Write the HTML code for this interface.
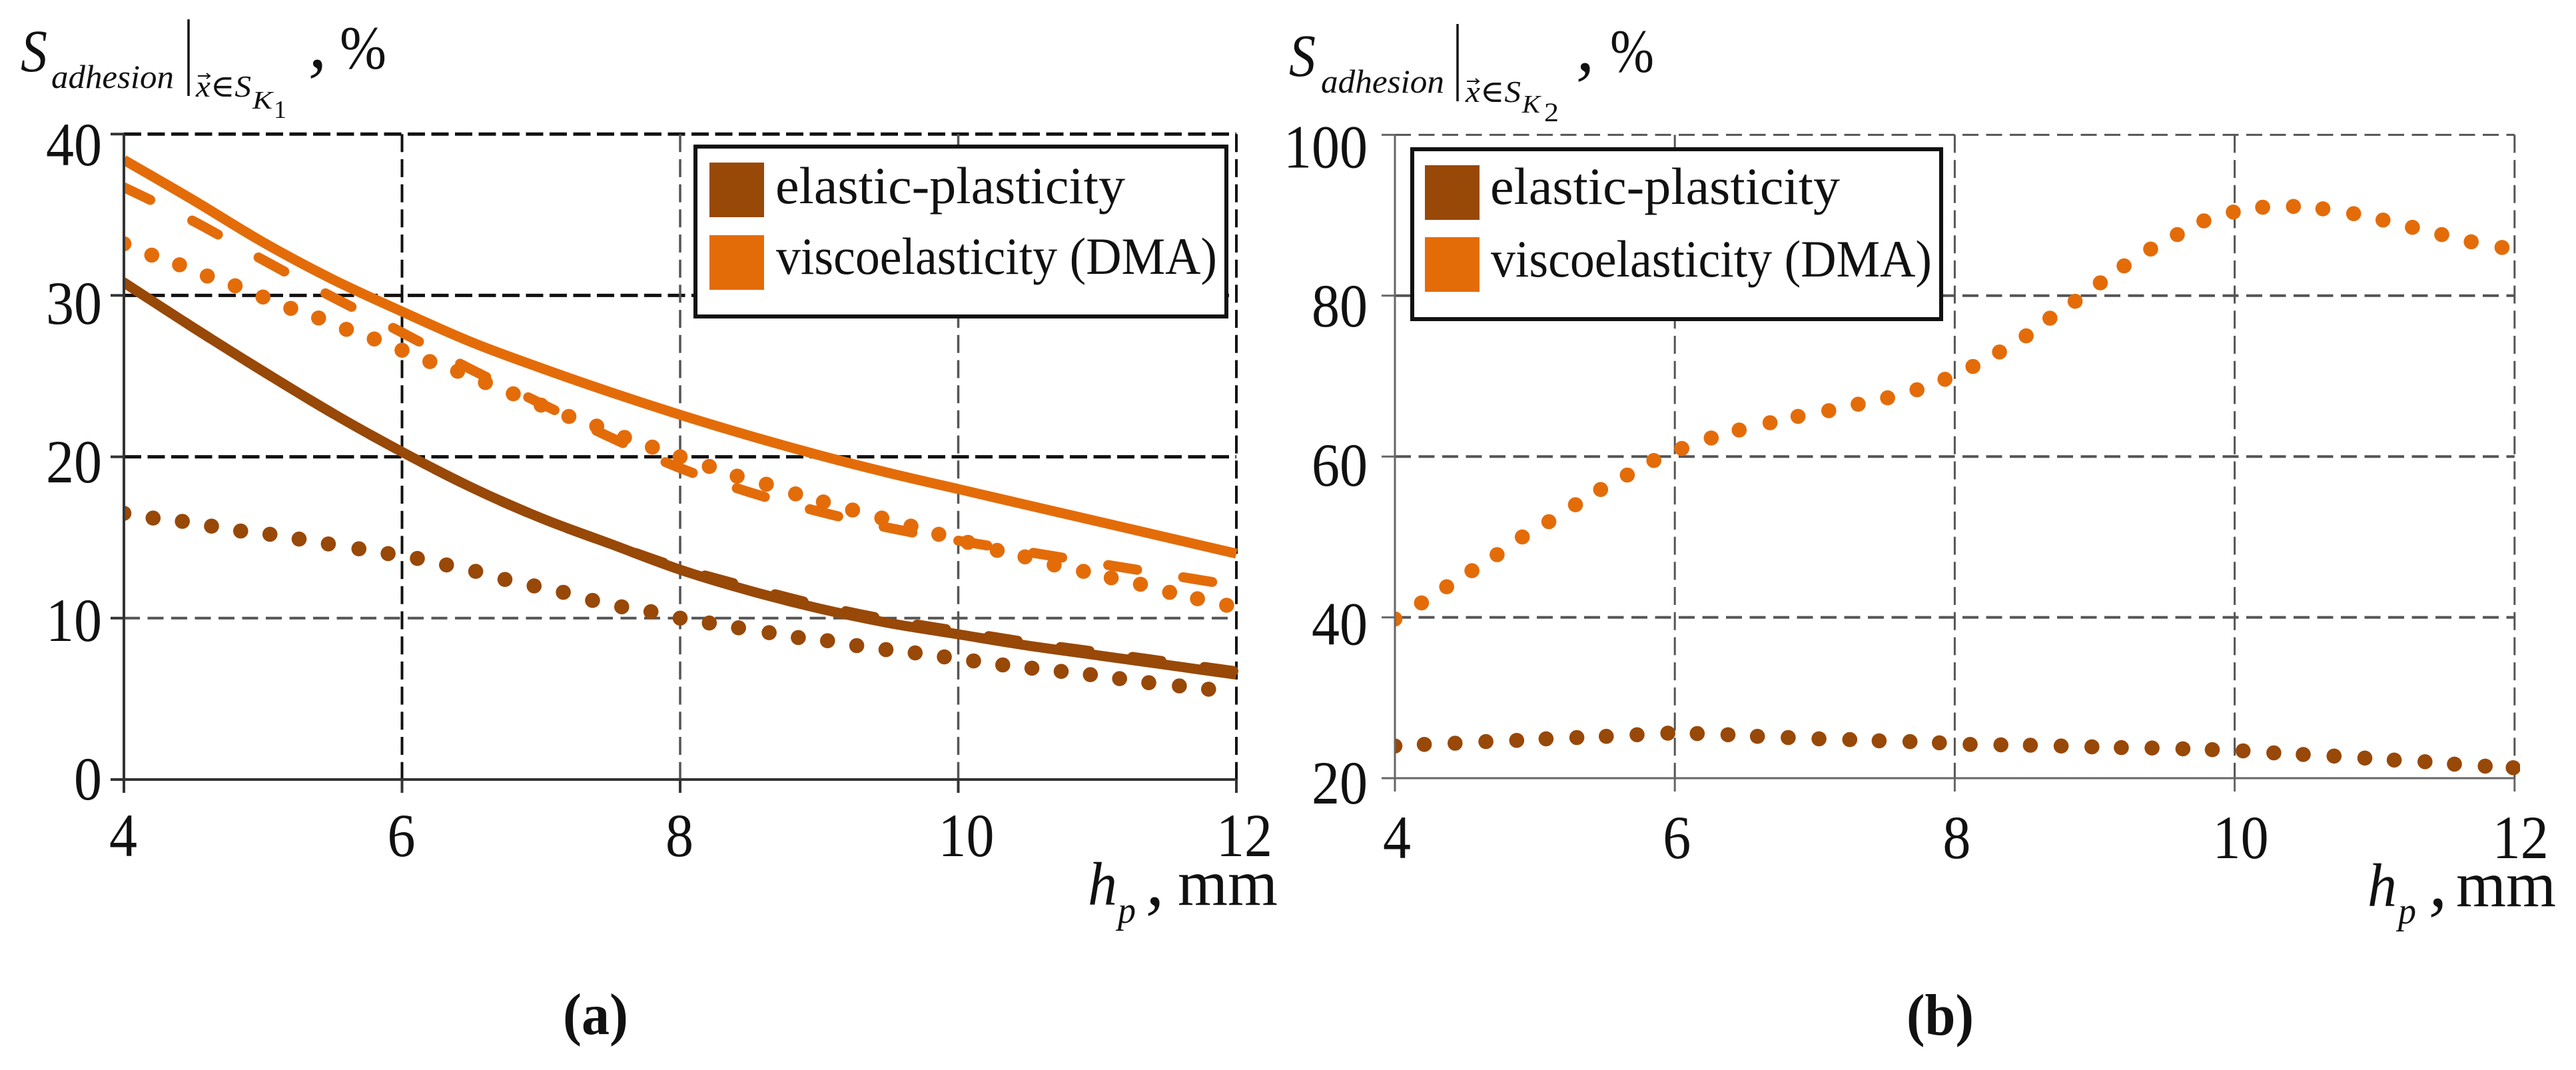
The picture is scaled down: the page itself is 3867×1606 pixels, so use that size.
<!DOCTYPE html>
<html lang="en">
<head>
<meta charset="utf-8">
<title>Adhesion area versus h_p</title>
<style>
html,body{margin:0;padding:0;background:#fff;width:3867px;height:1606px;overflow:hidden}
svg{display:block}
text{font-family:"Liberation Serif","DejaVu Serif",serif;fill:#111}
.it{font-style:italic}
</style>
</head>
<body>
<svg id="figure" xmlns="http://www.w3.org/2000/svg" width="3867" height="1606" viewBox="0 0 3867 1606">
<rect width="3867" height="1606" fill="#fff"/>
<defs>
<clipPath id="clipA"><rect x="186" y="190" width="1675" height="1000"/></clipPath>
<clipPath id="clipB"><rect x="2094" y="190" width="1689" height="1000"/></clipPath>
</defs>
<g id="gridA"></g>
<g id="marksA" clip-path="url(#clipA)"></g>
<g id="axesA"></g>
<g id="gridB"></g>
<g id="marksB" clip-path="url(#clipB)"></g>
<g id="axesB"></g>

<g>
<text class="it" x="31" y="107" font-size="90" textLength="40" lengthAdjust="spacingAndGlyphs">S</text>
<text class="it" x="77" y="132" font-size="50" textLength="184" lengthAdjust="spacingAndGlyphs">adhesion</text>
<line x1="283" y1="29" x2="283" y2="144" stroke="#111" stroke-width="3.5"/>
<path d="M297 114H315M310 110L315 114L310 118" fill="none" stroke="#111" stroke-width="2"/>
<text class="it" x="294" y="145" font-size="46" textLength="83" lengthAdjust="spacingAndGlyphs">x∈S</text>
<text class="it" x="379" y="163" font-size="38" textLength="30" lengthAdjust="spacingAndGlyphs">K</text>
<text x="411" y="177" font-size="38" textLength="19" lengthAdjust="spacingAndGlyphs">1</text>
<text class="it" x="463" y="101" font-size="110">,</text>
<text x="510" y="103" font-size="92" textLength="70" lengthAdjust="spacingAndGlyphs">%</text>
</g>

<g>
<text class="it" x="1935" y="114" font-size="90" textLength="40" lengthAdjust="spacingAndGlyphs">S</text>
<text class="it" x="1983" y="139" font-size="50" textLength="185" lengthAdjust="spacingAndGlyphs">adhesion</text>
<line x1="2188" y1="36" x2="2188" y2="152" stroke="#111" stroke-width="3.5"/>
<path d="M2202 122H2220M2215 118L2220 122L2215 126" fill="none" stroke="#111" stroke-width="2"/>
<text class="it" x="2200" y="153" font-size="46" textLength="83" lengthAdjust="spacingAndGlyphs">x∈S</text>
<text class="it" x="2285" y="169" font-size="38" textLength="27" lengthAdjust="spacingAndGlyphs">K</text>
<text x="2318" y="182" font-size="40" textLength="22" lengthAdjust="spacingAndGlyphs">2</text>
<text class="it" x="2366" y="106" font-size="110">,</text>
<text x="2417" y="108" font-size="92" textLength="66" lengthAdjust="spacingAndGlyphs">%</text>
</g>

<g>
<text class="it" x="1633" y="1358" font-size="92" textLength="44" lengthAdjust="spacingAndGlyphs">h</text>
<text class="it" x="1678" y="1385" font-size="56" textLength="27" lengthAdjust="spacingAndGlyphs">p</text>
<text class="it" x="1720" y="1358" font-size="110">,</text>
<text x="1768" y="1358" font-size="98" textLength="150" lengthAdjust="spacingAndGlyphs">mm</text>
</g>
<g>
<text class="it" x="3554" y="1360" font-size="92" textLength="44" lengthAdjust="spacingAndGlyphs">h</text>
<text class="it" x="3600" y="1386" font-size="56" textLength="27" lengthAdjust="spacingAndGlyphs">p</text>
<text class="it" x="3646" y="1360" font-size="110">,</text>
<text x="3687" y="1360" font-size="98" textLength="150" lengthAdjust="spacingAndGlyphs">mm</text>
</g>

<g>
<rect x="1044" y="220" width="797" height="255" fill="#fff" stroke="#111" stroke-width="6"/>
<rect x="1065" y="244" width="82" height="82" fill="#984807"/>
<rect x="1065" y="353" width="82" height="82" fill="#E36C09"/>
<text x="1164" y="305" font-size="78" textLength="525" lengthAdjust="spacingAndGlyphs">elastic-plasticity</text>
<text x="1165" y="411" font-size="78" textLength="662" lengthAdjust="spacingAndGlyphs">viscoelasticity (DMA)</text>
</g>
<g>
<rect x="2120" y="224" width="794" height="255" fill="#fff" stroke="#111" stroke-width="6"/>
<rect x="2139" y="248" width="82" height="82" fill="#984807"/>
<rect x="2139" y="356" width="82" height="82" fill="#E36C09"/>
<text x="2237" y="306" font-size="78" textLength="525" lengthAdjust="spacingAndGlyphs">elastic-plasticity</text>
<text x="2238" y="415" font-size="78" textLength="662" lengthAdjust="spacingAndGlyphs">viscoelasticity (DMA)</text>
</g>

<text x="845" y="1552" font-size="88" font-weight="bold" textLength="98" lengthAdjust="spacingAndGlyphs">(a)</text>
<text x="2862" y="1553" font-size="88" font-weight="bold" textLength="101" lengthAdjust="spacingAndGlyphs">(b)</text>
</svg>

<script>
// Shared x tick values and panel tick values
const hTicks = [4, 6, 8, 10, 12];
const yTicksA = [0, 10, 20, 30, 40];
const yTicksB = [20, 40, 60, 80, 100];

// Panel (a) curve knots
const curveH = [4, 4.5, 5, 5.5, 6, 6.5, 7, 7.5, 8, 8.5, 9, 9.5, 10, 10.5, 11, 11.5, 12];
const viscoSolidA = [38.4, 35.9, 33.3, 31.0, 29.0, 27.1, 25.5, 24.0, 22.6, 21.3, 20.1, 19.0, 18.0, 17.0, 16.0, 15.0, 14.0];
const viscoDashedA = [36.7, 34.6, 32.2, 29.9, 27.7, 25.4, 23.3, 21.2, 19.3, 17.8, 16.6, 15.6, 14.8, 14.1, 13.4, 12.7, 12.0];
const elasticSolidA = [30.8, 28.0, 25.3, 22.7, 20.3, 18.1, 16.2, 14.6, 13.0, 11.7, 10.6, 9.7, 9.0, 8.3, 7.7, 7.1, 6.5];
const elasticDashedA = [30.8, 28.0, 25.3, 22.7, 20.3, 18.1, 16.2, 14.6, 13.1, 11.9, 10.8, 9.9, 9.2, 8.5, 7.9, 7.3, 6.7];

// Panel (a) dotted series
const viscoDotsAH = [4, 4.2, 4.4, 4.6, 4.8, 5, 5.2, 5.4, 5.6, 5.8, 6, 6.2, 6.4, 6.6, 6.8, 7, 7.2, 7.4, 7.6, 7.8, 8, 8.21, 8.41, 8.62, 8.83, 9.03, 9.24, 9.45, 9.66, 9.86, 10.07, 10.28, 10.48, 10.69, 10.9, 11.1, 11.31, 11.52, 11.72, 11.93];
const viscoDotsAS = [33.2, 32.5, 31.9, 31.2, 30.6, 29.9, 29.2, 28.6, 27.9, 27.3, 26.6, 25.9, 25.3, 24.6, 23.9, 23.2, 22.5, 21.9, 21.2, 20.6, 20.0, 19.4, 18.8, 18.3, 17.7, 17.2, 16.7, 16.2, 15.7, 15.2, 14.7, 14.2, 13.8, 13.3, 12.9, 12.5, 12.1, 11.6, 11.2, 10.8];
const elasticDotsAH = [4, 4.21, 4.42, 4.63, 4.84, 5.05, 5.26, 5.47, 5.69, 5.9, 6.11, 6.32, 6.53, 6.74, 6.95, 7.16, 7.37, 7.58, 7.79, 8, 8.21, 8.42, 8.64, 8.85, 9.06, 9.27, 9.48, 9.69, 9.9, 10.11, 10.32, 10.53, 10.74, 10.95, 11.16, 11.37, 11.59, 11.8];
const elasticDotsAS = [16.5, 16.2, 16.0, 15.7, 15.4, 15.2, 14.9, 14.6, 14.3, 14.0, 13.7, 13.3, 12.9, 12.4, 12.0, 11.6, 11.1, 10.7, 10.4, 10.0, 9.7, 9.4, 9.1, 8.8, 8.6, 8.3, 8.05, 7.85, 7.6, 7.35, 7.1, 6.9, 6.7, 6.5, 6.25, 6.0, 5.8, 5.6];

// Panel (b) dotted series
const viscoDotsBH = [4, 4.19, 4.37, 4.55, 4.73, 4.91, 5.1, 5.29, 5.47, 5.66, 5.85, 6.05, 6.26, 6.46, 6.68, 6.88, 7.1, 7.31, 7.52, 7.73, 7.93, 8.13, 8.32, 8.51, 8.68, 8.86, 9.04, 9.21, 9.4, 9.59, 9.78, 9.99, 10.2, 10.42, 10.63, 10.85, 11.06, 11.27, 11.48, 11.69, 11.91];
const viscoDotsBS = [39.8, 41.8, 43.8, 45.8, 47.8, 50.0, 51.9, 54.0, 55.9, 57.7, 59.5, 61.0, 62.3, 63.3, 64.2, 65.0, 65.7, 66.5, 67.3, 68.3, 69.6, 71.2, 73.0, 75.0, 77.2, 79.3, 81.6, 83.7, 85.8, 87.6, 89.3, 90.4, 91.0, 91.1, 90.8, 90.2, 89.4, 88.5, 87.6, 86.7, 86.0];
const elasticDotsBH = [4, 4.21, 4.43, 4.65, 4.87, 5.08, 5.3, 5.51, 5.73, 5.95, 6.16, 6.38, 6.59, 6.81, 7.03, 7.25, 7.46, 7.68, 7.89, 8.11, 8.33, 8.54, 8.76, 8.98, 9.19, 9.41, 9.63, 9.84, 10.06, 10.28, 10.49, 10.71, 10.93, 11.14, 11.36, 11.57, 11.79, 11.99];
const elasticDotsBS = [24.0, 24.2, 24.35, 24.55, 24.7, 24.9, 25.05, 25.2, 25.4, 25.6, 25.55, 25.4, 25.2, 25.05, 24.9, 24.8, 24.65, 24.55, 24.4, 24.2, 24.15, 24.1, 24.0, 23.9, 23.8, 23.75, 23.65, 23.55, 23.4, 23.15, 22.95, 22.75, 22.5, 22.25, 22.05, 21.75, 21.5, 21.3];

const BROWN = '#984807';
const ORANGE = '#E36C09';
const NS = 'http://www.w3.org/2000/svg';

function xA(h) { return 186 + (h - 4) * 208.75; }
function yA(s) { return 1170 - s * 24.22; }
function xB(h) { return 2094 + (h - 4) * 210.1; }
function yB(s) { return 1168 - (s - 20) * 12.07; }
function labelYA(s) { return 1200 - s * 23.8; }
function labelYB(s) { return 1206 - (s - 20) * 11.93; }

function make(tag, parent, props) {
  const el = document.createElementNS(NS, tag);
  for (const k in props) el.setAttribute(k, props[k]);
  parent.appendChild(el);
  return el;
}

function smoothPath(hs, vs, fx, fy) {
  const p = hs.map((h, i) => [fx(h), fy(vs[i])]);
  let d = 'M' + p[0][0].toFixed(1) + ' ' + p[0][1].toFixed(1);
  for (let i = 0; i < p.length - 1; i++) {
    const a = p[Math.max(i - 1, 0)], b = p[i], c = p[i + 1], e = p[Math.min(i + 2, p.length - 1)];
    const c1x = b[0] + (c[0] - a[0]) / 6, c1y = b[1] + (c[1] - a[1]) / 6;
    const c2x = c[0] - (e[0] - b[0]) / 6, c2y = c[1] - (e[1] - b[1]) / 6;
    d += 'C' + c1x.toFixed(1) + ' ' + c1y.toFixed(1) + ' ' + c2x.toFixed(1) + ' ' + c2y.toFixed(1) + ' ' + c[0].toFixed(1) + ' ' + c[1].toFixed(1);
  }
  return d;
}

function drawCurve(parent, ys, color, dash, name) {
  const props = { d: smoothPath(curveH, ys, xA, yA), fill: 'none', stroke: color, 'stroke-width': 15 };
  if (dash) {
    props['stroke-dasharray'] = dash;
    props['stroke-linecap'] = 'round';
  }
  const path = make('path', parent, props);
  
  
}

function drawDots(parent, hs, vs, fx, fy, color, name) {
  hs.forEach(function (h, i) {
    const dot = make('circle', parent, { cx: fx(h).toFixed(1), cy: fy(vs[i]).toFixed(1), r: 11.3, fill: color });
    
    
  });
}

function gridStyleA(kind, v) {
  if (kind === 'y') {
    if (v >= 20) return { stroke: '#111', w: 5, dash: '26 9.5' };
    return { stroke: '#555', w: 4, dash: '24 11.5' };
  }
  if (v === 6 || v === 12) return { stroke: '#111', w: 4, dash: '27 10.7' };
  return { stroke: '#555', w: 3.5, dash: '27 10.7' };
}
function gridStyleB(kind, v) {
  if (kind === 'y') return { stroke: '#555', w: v === 100 ? 3 : 4, dash: '24 11.5' };
  return { stroke: '#555', w: 3, dash: '27 10.7' };
}

function drawPanel(cfg) {
  const yTop = cfg.fy(cfg.yTicks[cfg.yTicks.length - 1]);
  const yBot = cfg.fy(cfg.yTicks[0]);
  const xLeft = cfg.fx(hTicks[0]);
  const xRight = cfg.fx(hTicks[hTicks.length - 1]);

  cfg.yTicks.slice(1).forEach(function (v) {
    const st = cfg.style('y', v);
    const g = make('line', cfg.grid, { x1: xLeft, x2: xRight, y1: cfg.fy(v), y2: cfg.fy(v), stroke: st.stroke, 'stroke-width': st.w, 'stroke-dasharray': st.dash });
    
    
  });
  hTicks.slice(1).forEach(function (v) {
    const st = cfg.style('x', v);
    const g = make('line', cfg.grid, { x1: cfg.fx(v), x2: cfg.fx(v), y1: yTop, y2: yBot, stroke: st.stroke, 'stroke-width': st.w, 'stroke-dasharray': st.dash });
    
    
  });

  const yAxis = make('line', cfg.axes, { x1: xLeft, x2: xLeft, y1: yTop, y2: yBot + 20, stroke: cfg.axisColor, 'stroke-width': cfg.axisW });
  
  
  const xAxis = make('line', cfg.axes, { x1: xLeft - 20, x2: xRight, y1: yBot, y2: yBot, stroke: cfg.axisColor, 'stroke-width': cfg.axisW });
  
  

  cfg.yTicks.forEach(function (v) {
    const t = make('line', cfg.axes, { x1: xLeft - 20, x2: xLeft, y1: cfg.fy(v), y2: cfg.fy(v), stroke: cfg.axisColor, 'stroke-width': cfg.axisW });
    
    
    const yText = String(v);
    const lab = make('text', cfg.axes, { x: cfg.labelRight, y: cfg.labelY(v).toFixed(1), 'font-size': 92, 'text-anchor': 'end', textLength: yText.length * 42, lengthAdjust: 'spacingAndGlyphs' });
    lab.textContent = yText;
    
    
  });
  hTicks.forEach(function (v) {
    const t = make('line', cfg.axes, { x1: cfg.fx(v), x2: cfg.fx(v), y1: yBot, y2: yBot + 20, stroke: cfg.axisColor, 'stroke-width': cfg.axisW });
    
    
    const off = v >= 10 ? cfg.off2 : cfg.off1;
    const xText = String(v);
    const lab = make('text', cfg.axes, { x: cfg.fx(v) + off, y: cfg.xLabelY, 'font-size': 92, 'text-anchor': 'middle', textLength: xText.length * 42, lengthAdjust: 'spacingAndGlyphs' });
    lab.textContent = xText;
    
    
  });
}

const gridA = document.getElementById('gridA');
const marksA = document.getElementById('marksA');
const axesA = document.getElementById('axesA');
const gridB = document.getElementById('gridB');
const marksB = document.getElementById('marksB');
const axesB = document.getElementById('axesB');

drawPanel({ grid: gridA, axes: axesA, fx: xA, fy: yA, yTicks: yTicksA, style: gridStyleA, axisColor: '#333', axisW: 4, labelRight: 153, labelY: labelYA, xLabelY: 1285, off1: -1, off2: 12 });
drawPanel({ grid: gridB, axes: axesB, fx: xB, fy: yB, yTicks: yTicksB, style: gridStyleB, axisColor: '#666', axisW: 3, labelRight: 2053, labelY: labelYB, xLabelY: 1288, off1: 3, off2: 9 });

drawCurve(marksA, elasticDashedA, BROWN, '44 65', 'elastic-plasticity-dashed-line');
drawCurve(marksA, elasticSolidA, BROWN, null, 'elastic-plasticity-solid-line');
drawCurve(marksA, viscoDashedA, ORANGE, '44 70', 'viscoelasticity-dashed-line');
drawCurve(marksA, viscoSolidA, ORANGE, null, 'viscoelasticity-solid-line');
drawDots(marksA, viscoDotsAH, viscoDotsAS, xA, yA, ORANGE, 'viscoelasticity-dot-a');
drawDots(marksA, elasticDotsAH, elasticDotsAS, xA, yA, BROWN, 'elastic-plasticity-dot-a');
drawDots(marksB, viscoDotsBH, viscoDotsBS, xB, yB, ORANGE, 'viscoelasticity-dot-b');
drawDots(marksB, elasticDotsBH, elasticDotsBS, xB, yB, BROWN, 'elastic-plasticity-dot-b');
</script>
</body>
</html>
